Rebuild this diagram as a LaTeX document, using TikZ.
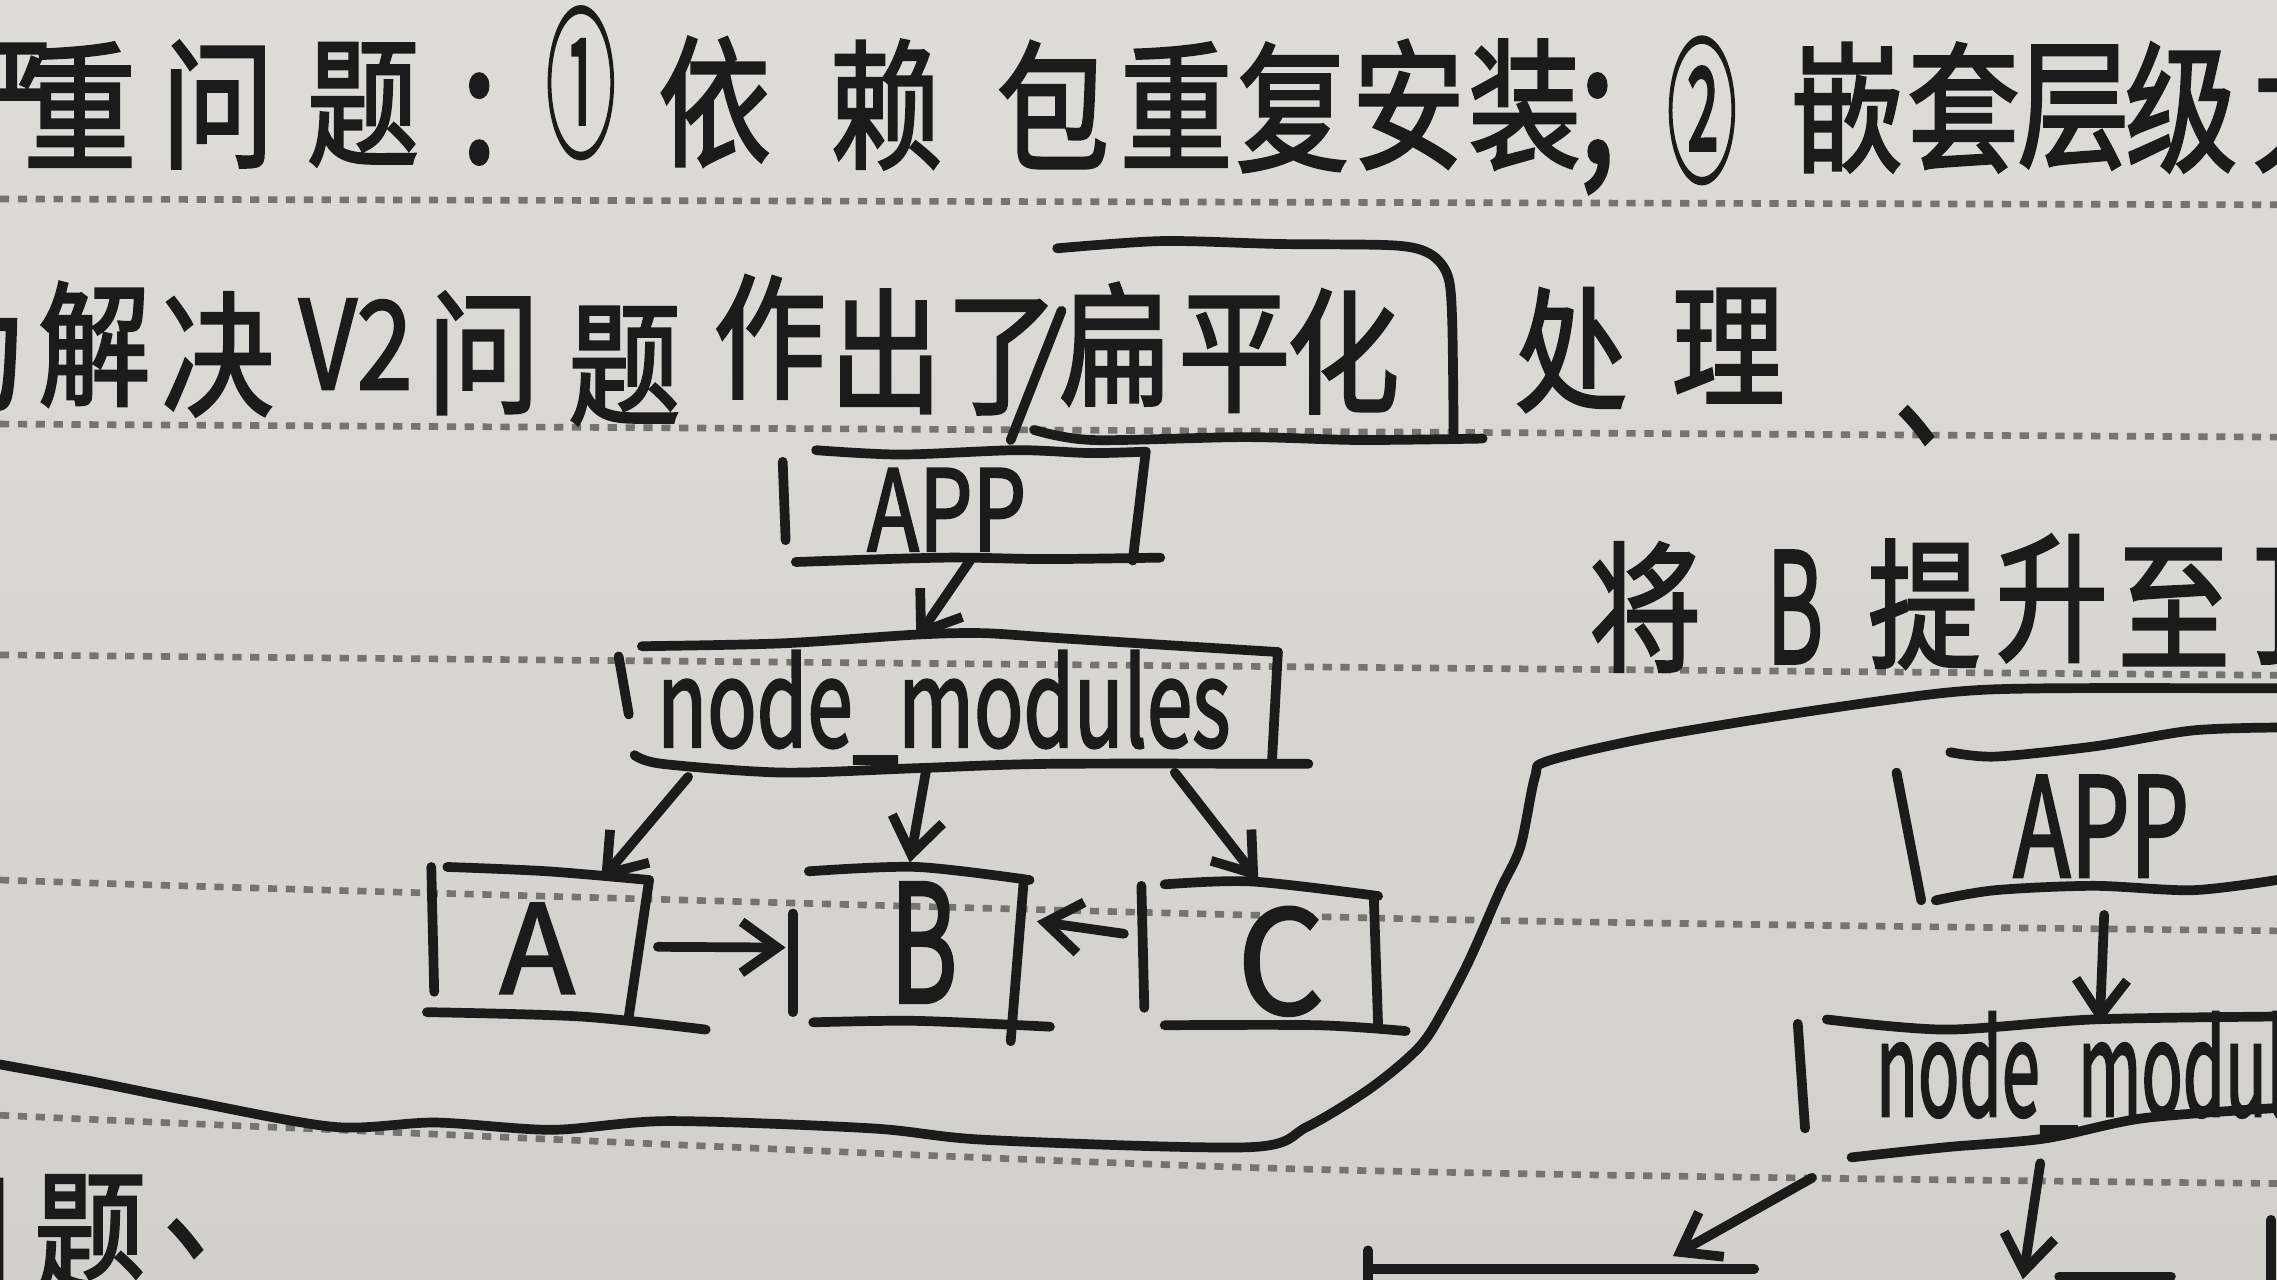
\documentclass[tikz,border=0pt]{standalone}
\usepackage{fontspec}
\usepackage{graphicx}
\newfontfamily\cjk{Noto Sans CJK SC}[FakeBold=2.2]
\usetikzlibrary{arrows.meta,calc}
\definecolor{paper}{RGB}{210,208,204}
\definecolor{paperlight}{RGB}{222,220,216}
\definecolor{inkc}{RGB}{28,27,27}
\definecolor{rulec}{RGB}{118,116,113}
\newcommand\hs[4]{{\fontsize{#1}{#1}\selectfont\scalebox{#2}[#3]{#4}}}
\newcommand\pu[1]{\makebox[0.45em][l]{#1}}
\begin{document}
\begin{tikzpicture}[x=0.01cm,y=-0.01cm,
  rule/.style={draw=rulec, line width=1.3pt, dash pattern=on 1.8pt off 1.7pt},
  ink/.style={draw=inkc, line width=1.9pt, line cap=round, line join=round},
  arr/.style={ink, -{Straight Barb[length=7pt,width=10pt]}},
  hbox/.style={inner sep=0pt, outer sep=0pt, draw=none, rectangle},
  ch/.style={inner sep=0pt, outer sep=0pt, text=inkc, font=\cjk},
]
\useasboundingbox (0,0) rectangle (1568,881);
\clip (0,0) rectangle (1568,881);
\shade[top color=paperlight, bottom color=paper] (0,0) rectangle (1568,881);

% ruled dotted lines
\draw[rule] plot[smooth] coordinates {(0,137) (1568,141)};
\draw[rule] plot[smooth] coordinates {(0,292) (700,296) (1568,301)};
\draw[rule] plot[smooth] coordinates {(0,451) (985,460) (1568,465)};
\draw[rule] plot[smooth] coordinates {(0,606) (262,614) (985,633) (1568,641)};
\draw[rule] plot[smooth] coordinates {(0,768) (207,777) (895,805) (1568,815)};

% line 1
\foreach \c/\x/\y [count=\i] in {严/0/72, 重/55/72, 问/150/72, 题/250/72,
  依/492/70, 赖/610/72, 包/725/72, 重/810/72, 复/890/74, 安/970/72, 装/1050/72,
  嵌/1272/74, 套/1352/74, 层/1428/74, 级/1502/74, 太/1590/74}
  \node[ch] (la\i) at (\x,\y) {\hs{22}{1}{1.25}{\c}};
\node[ch] (colon) at (330,82) {\hs{26}{1}{1.25}{:}};
\node[ch] (semi) at (1100,92) {\hs{26}{1}{1.25}{;}};
\node[ch] (c1) at (400,57) {\hs{22}{0.62}{1.45}{①}};
\node[ch] (c2) at (1172,76) {\hs{22}{0.62}{1.4}{②}};

% line 2
\foreach \c/\x/\y [count=\i] in {为/-20/240, 解/65/237, 决/150/244, 问/333/243, 题/430/252,
  作/530/232, 出/610/242, 了/690/246, 扁/768/237, 平/850/244, 化/925/242, 处/1082/241, 理/1190/238}
  \node[ch] (lb\i) at (\x,\y) {\hs{22}{1}{1.2}{\c}};
\node[ch] (dun) at (1322,293) {\hs{22}{1}{1.2}{\pu{、}}};
\node[ch] (v2) at (245,237) {\hs{24}{0.82}{1}{V2}};
\draw[ink] (731,214) -- (696,303);

% flat box around 扁平化
\node[hbox, minimum width=2.89cm, minimum height=1.34cm] (flat) at (856,236) {};
\draw[ink] plot[smooth, tension=0.5] coordinates {(728,171) (800,166) (880,168) (960,169) (985,175) (997,190) (1000,220) (1001,298)};
\draw[ink] plot[smooth, tension=0.5] coordinates {(712,296) (752,303) (857,301) (936,303) (1021,302)};

% left tree
\node[hbox, minimum width=2.45cm, minimum height=0.74cm] (appL) at (667,349) {};
\node[ch] (appLt) at (652,351) {\hs{20}{0.83}{1.1}{APP}};
\draw[ink] plot[smooth, tension=0.5] coordinates {(562,310) (620,313) (700,310) (751,312) (789,311)};
\draw[ink] (789,311) -- (780,386);
\draw[ink] plot[smooth, tension=0.5] coordinates {(548,387) (650,384) (720,385) (799,384)};
\draw[ink] (539,318) -- (541,372);

\node[hbox, minimum width=4.64cm, minimum height=0.80cm] (nmL) at (669,485) {};
\node[ch] (nmLt) at (650,487) {\hs{20}{0.8}{1.18}{node\_modules}};
\draw[ink] plot[smooth, tension=0.5] coordinates {(442,445) (539,443) (631,437) (677,436) (723,439) (800,444) (880,449)};
\draw[ink] (880,449) -- (876,523);
\draw[ink] plot[smooth, tension=0.5] coordinates {(437,520) (456,526) (539,532) (631,529) (723,526) (901,526)};
\draw[ink] (426,452) -- (433,492);

\node[hbox, minimum width=1.50cm, minimum height=1.08cm] (A) at (372,651) {};
\node[ch] (At) at (370,653) {\hs{24}{1}{1}{A}};
\draw[ink] plot[smooth, tension=0.5] coordinates {(308,597) (377,600) (447,606)};
\draw[ink] (447,606) -- (433,700);
\draw[ink] plot[smooth, tension=0.5] coordinates {(294,697) (400,700) (486,709)};
\draw[ink] (297,597) -- (299,683);

\node[hbox, minimum width=1.63cm, minimum height=1.07cm] (B) at (627.5,653.5) {};
\node[ch] (Bt) at (636,649) {\hs{32}{0.63}{1}{B}};
\draw[ink] plot[smooth, tension=0.5] coordinates {(557,600) (631,597) (709,606)};
\draw[ink] (705,606) -- (696,717);
\draw[ink] plot[smooth, tension=0.5] coordinates {(560,704) (631,703) (723,707)};
\draw[ink] (546,629) -- (546,697);

\node[hbox, minimum width=1.61cm, minimum height=1.00cm] (C) at (868.5,659) {};
\node[ch] (Ct) at (882,662) {\hs{28}{0.95}{1}{C}};
\draw[ink] plot[smooth, tension=0.5] coordinates {(802,609) (862,607) (949,617)};
\draw[ink] (946,617) -- (949,706);
\draw[ink] plot[smooth, tension=0.5] coordinates {(802,706) (908,706) (968,710)};
\draw[ink] (786,610) -- (788,694);

\draw[arr] ($(appL.south)+(1,0)$) -- ($(nmL.north)+(-38,-5)$);
\draw[arr] ($(nmL.south west)+(37,10)$) -- ($(A.north)+(42,9)$);
\draw[arr] ($(nmL.south)+(-31,4)$) -- ($(B.north)+(-1,-6)$);
\draw[arr] ($(nmL.south)+(140,7)$) -- ($(C.north)+(-2,-3)$);
\draw[arr] ($(A.east)+(6,1)$) -- ($(B.west)+(-5,-1)$);
\draw[arr] ($(C.west)+(-14,-16)$) -- ($(B.east)+(5,-19)$);

% separating curve
\draw[ink] plot[smooth, tension=0.5] coordinates {(0,733) (60,744) (130,758) (230,776) (300,773) (380,778) (460,772) (600,777) (680,785) (860,790) (900,776) (940,752) (968,730) (985,711) (1010,665) (1033,613) (1047,583) (1057,535) (1066,524) (1135,508) (1238,491) (1340,477) (1408,474) (1568,474)};

% right side
\foreach \c/\x/\y [count=\i] in {将/1133/418, 提/1325/416, 升/1413/412, 至/1497/418, 顶/1590/418}
  \node[ch] (lc\i) at (\x,\y) {\hs{22}{1}{1.25}{\c}};
\node[ch] (Br) at (1236,418) {\hs{30}{0.56}{1}{B}};

\node[hbox, minimum width=2.94cm, minimum height=1.10cm] (appR) at (1453,565) {};
\node[ch] (appRt) at (1447,569) {\hs{27}{0.68}{1}{APP}};
\draw[ink] plot[smooth, tension=0.5] coordinates {(1343,518) (1374,521) (1442,514) (1510,503) (1568,501)};
\draw[ink] plot[smooth, tension=0.5] coordinates {(1333,620) (1374,613) (1442,610) (1510,613) (1568,606)};
\draw[ink] (1306,532) -- (1323,620);

\node[hbox, minimum width=3.82cm, minimum height=0.88cm] (nmR) at (1429,746) {};
\node[ch, anchor=west] (nmRt) at (1292,739) {\hs{20}{0.67}{1.28}{node\_modules}};
\draw[ink] plot[smooth, tension=0.5] coordinates {(1258,702) (1340,709) (1442,702) (1568,700)};
\draw[ink] plot[smooth, tension=0.5] coordinates {(1275,797) (1340,790) (1408,784) (1476,770) (1568,763)};
\draw[ink] (1238,705) -- (1243,777);

\node[hbox, minimum width=2.66cm, minimum height=0.86cm] (lowL) at (1075,917) {};
\draw[ink] (942,874) -- (1208,874);
\draw[ink] (942,861) -- (942,890);
\node[hbox, minimum width=1.84cm, minimum height=0.81cm] (lowM) at (1472,919.5) {};
\draw[ink] (1418,879) -- (1495,879);
\draw[ink] (1564,840) -- (1564,890);

\draw[arr] ($(appR.south)+(-4,10)$) -- ($(nmR.north)+(17,3)$);
\draw[arr] ($(nmR.south west)+(10,21)$) -- ($(lowL.north)+(77,-9)$);
\draw[arr] ($(nmR.south)+(-24,11)$) -- ($(lowM.north)+(-79,2)$);

% bottom-left
\node[ch] (ld1) at (-30,850) {\hs{22}{1}{1.2}{问}};
\node[ch] (ld2) at (62,850) {\hs{22}{1}{1.2}{题}};
\node[ch] (ld3) at (130,853) {\hs{22}{1}{1.2}{\pu{、}}};
\end{tikzpicture}
\end{document}
